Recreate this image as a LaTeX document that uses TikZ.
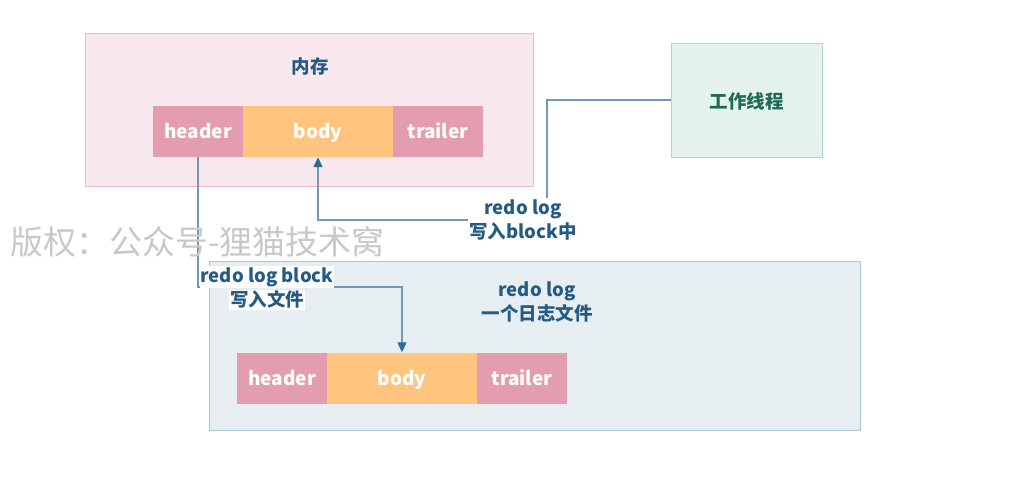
\documentclass[tikz,border=0pt]{standalone}
\usepackage{fontspec}
\setmainfont{Noto Sans CJK SC}
\usetikzlibrary{arrows.meta}
\definecolor{memfill}{HTML}{F9E9EF}
\definecolor{memline}{HTML}{EFB9CB}
\definecolor{filefill}{HTML}{E7EEF2}
\definecolor{fileline}{HTML}{A9C9DA}
\definecolor{thrfill}{HTML}{E5F3EE}
\definecolor{thrline}{HTML}{A9D9C7}
\definecolor{thrtext}{HTML}{1D6A56}
\definecolor{pinkcell}{HTML}{E39DAF}
\definecolor{bodycell}{HTML}{FFC47E}
\definecolor{navy}{HTML}{235B82}
\definecolor{wire}{HTML}{7199B3}
\definecolor{tip}{HTML}{2C6A98}
\definecolor{mark}{HTML}{C8C8C8}
\tikzset{
  area/.style={draw=#1, line width=1pt, inner sep=0pt},
  cell/.style={fill=#1, draw=none, inner sep=0pt, minimum height=51pt,
    text height=16pt, text depth=2pt,
    text=white, font=\fontsize{19}{22}\selectfont\bfseries},
  label/.style={text=navy, font=\fontsize{18.5}{24.5}\selectfont\bfseries, align=center},
  conn/.style={draw=wire, line width=1.3pt, -{Triangle[length=10pt,width=9pt,fill=tip,color=tip]}}
}
\begin{document}
\begin{tikzpicture}[x=1pt,y=-1pt]
\useasboundingbox (0,0) rectangle (1024,482);
% memory area
\node[area=memline, fill=memfill, minimum width=448pt, minimum height=153pt] (mem) at (309,109.5) {};
\node[label] (memtitle) at (310,66) {内存};
% worker thread
\node[area=thrline, fill=thrfill, minimum width=151pt, minimum height=114pt] (worker) at (746.5,100) {};
\node[label, text=thrtext] (workertitle) at (746.5,101) {工作线程};
% redo log file area
\node[area=fileline, fill=filefill, minimum width=651pt, minimum height=169pt] (file) at (534.5,345.5) {};
\node[label] (filetitle) at (537,302) {redo log\\一个日志文件};
% block in memory
\node[cell=pinkcell, minimum width=90pt] (theader) at (198,131.5) {header};
\node[cell=bodycell, minimum width=150pt] (tbody) at (318,131.5) {body};
\node[cell=pinkcell, minimum width=90pt] (ttrailer) at (438,131.5) {trailer};
% block in the log file
\node[cell=pinkcell, minimum width=90pt] (bheader) at (282,378) {header};
\node[cell=bodycell, minimum width=150pt] (bbody) at (402,378) {body};
\node[cell=pinkcell, minimum width=90pt] (btrailer) at (522,378) {trailer};
% worker writes into the block
\coordinate (turn1) at (547,220);
\draw[conn] (worker.west) -| (turn1) -| (tbody.south);
\node[label, fill=white, inner sep=1pt] (wlabel) at (523,220) {redo log\\写入block中};
% block flushed into the file
\coordinate (turn2) at (402,287);
\draw[conn] (theader.south) |- (turn2) -- (bbody.north);
\setlength{\fboxsep}{1pt}
\node[label, inner sep=0pt] (flabel) at (267,288) {\colorbox{white}{redo log block}\\[0pt]\colorbox{white}{写入文件}};
% copyright notice
\node[text=mark, font=\fontsize{33}{38}\selectfont, anchor=west, inner sep=0pt] (notice) at (10,242) {版权：公众号-狸猫技术窝};
\end{tikzpicture}
\end{document}
